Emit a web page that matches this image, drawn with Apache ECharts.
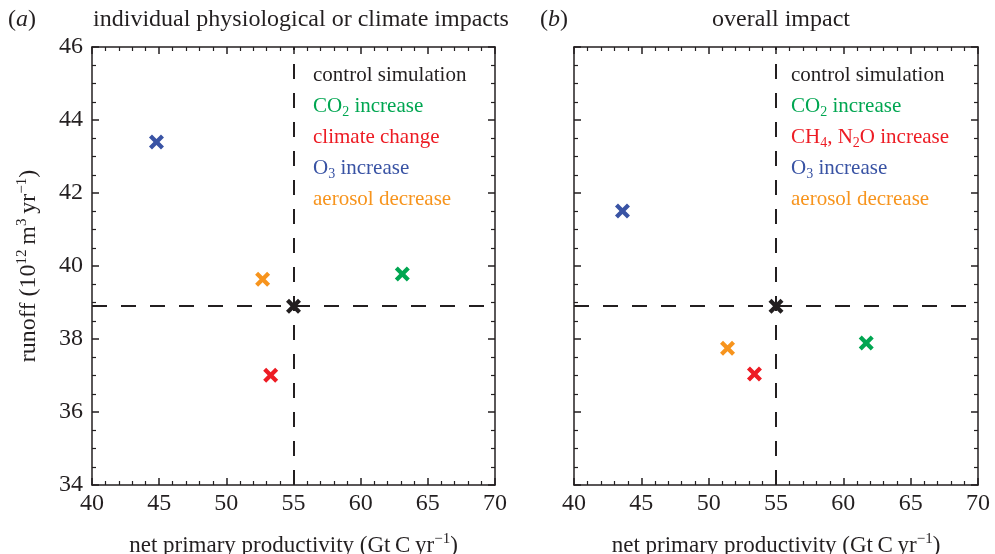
<!DOCTYPE html>
<html>
<head>
<meta charset="utf-8">
<script src="https://cdn.jsdelivr.net/npm/echarts@6.0.0/dist/echarts.min.js"></script>
<style>
  html, body { margin: 0; padding: 0; background: #fff; }
  #chart { width: 995px; height: 554px; }
</style>
</head>
<body>
<div id="chart"></div>
<script>
// 数据：(a) 单项影响, (b) 总体影响
const seriesColors = ['#231f20', '#00a651', '#ed1c24', '#3953a4', '#f7941d']
const labelsA = ['control simulation', 'CO{sub|2} increase', 'climate change', 'O{sub|3} increase', 'aerosol decrease']
const labelsB = ['control simulation', 'CO{sub|2} increase', 'CH{sub|4}, N{sub|2}O increase', 'O{sub|3} increase', 'aerosol decrease']
const nppA = [55.0, 63.1, 53.3, 44.8, 52.7] // Gt C yr-1
const runoffA = [38.9, 39.78, 37.01, 43.4, 39.64] // 10^12 m3 yr-1
const nppB = [55.0, 61.7, 53.4, 43.6, 51.4]
const runoffB = [38.9, 37.89, 37.04, 41.51, 37.75]
const controlNpp = 55.0
const controlRunoff = 38.9
const xRange = [40, 70]
const yRange = [34, 46]

const serif = '"Liberation Serif", "DejaVu Serif", serif'
const crossPath = 'path://M0,2L2,0L5,3L8,0L10,2L7,5L10,8L8,10L5,7L2,10L0,8L3,5Z'
const richSub = {
  n: { fontFamily: serif, fontSize: 21, lineHeight: 26, verticalAlign: 'middle' },
  sub: { fontFamily: serif, fontSize: 14, lineHeight: 26, verticalAlign: 'bottom' }
}

let myChart = echarts.init(document.getElementById('chart'))

// 坐标轴
function makeX (grid, pos, labels) {
  return {
    type: 'value',
    gridIndex: grid,
    position: pos,
    min: xRange[0],
    max: xRange[1],
    interval: 5,
    axisLine: { show: true, onZero: false, lineStyle: { color: '#231f20', width: 1.5 } },
    axisTick: { show: true, inside: true, length: 7, lineStyle: { color: '#231f20', width: 1.5 } },
    minorTick: { show: true, splitNumber: 5, length: 4, lineStyle: { color: '#231f20', width: 1.2 } },
    splitLine: { show: false },
    axisLabel: { show: labels, margin: 7, color: '#231f20', fontFamily: serif, fontSize: 24 },
    name: labels ? 'net primary productivity (Gt\u2009C\u2009yr{sup|\u22121})' : '',
    nameLocation: 'middle',
    nameGap: 47,
    nameTextStyle: {
      color: '#231f20',
      fontFamily: serif,
      fontSize: 23,
      lineHeight: 28,
      rich: {
        sup: { fontFamily: serif, fontSize: 15, lineHeight: 28, verticalAlign: 'top' }
      }
    }
  }
}

function makeY (grid, pos, labels, withName) {
  return {
    type: 'value',
    gridIndex: grid,
    position: pos,
    min: yRange[0],
    max: yRange[1],
    interval: 2,
    axisLine: { show: true, onZero: false, lineStyle: { color: '#231f20', width: 1.5 } },
    axisTick: { show: true, inside: true, length: 7, lineStyle: { color: '#231f20', width: 1.5 } },
    minorTick: { show: true, splitNumber: 4, length: 4, lineStyle: { color: '#231f20', width: 1.2 } },
    splitLine: { show: false },
    axisLabel: { show: labels, margin: 9, color: '#231f20', fontFamily: serif, fontSize: 24 },
    name: withName ? 'runoff (10{sup|12}\u2009m{sup|3}\u2009yr{sup|\u22121})' : '',
    nameLocation: 'middle',
    nameGap: 49,
    nameTextStyle: {
      color: '#231f20',
      fontFamily: serif,
      fontSize: 24,
      lineHeight: 28,
      rich: {
        sup: { fontFamily: serif, fontSize: 15, lineHeight: 28, verticalAlign: 'top' }
      }
    }
  }
}

function pointSeries (grid, npp, runoff) {
  let list = []
  // 参考虚线
  list.push({
    type: 'scatter',
    xAxisIndex: grid,
    yAxisIndex: grid,
    data: [],
    z: 1,
    markLine: {
      silent: true,
      symbol: 'none',
      label: { show: false },
      lineStyle: { color: '#231f20', width: 2, type: [15, 14] },
      data: [{ xAxis: controlNpp }, { yAxis: controlRunoff }]
    }
  })
  npp.forEach((v, i) => {
    list.push({
      type: 'scatter',
      xAxisIndex: grid,
      yAxisIndex: grid,
      symbol: crossPath,
      symbolSize: 15,
      z: 3,
      itemStyle: { color: seriesColors[i], opacity: 1 },
      data: [[v, runoff[i]]]
    })
  })
  return list
}

function legendText (labels, left) {
  return labels.map((t, i) => ({
    type: 'text',
    left: left,
    top: 65 + i * 31,
    style: {
      text: t.split(/(\{sub\|[^}]*\})/).map(s => s.startsWith('{') ? s : (s ? '{n|' + s + '}' : '')).join(''),
      fill: seriesColors[i],
      rich: richSub
    }
  }))
}

const panelRich = {
  n: { fontFamily: serif, fontSize: 24, fontWeight: 'normal', color: '#231f20' },
  i: { fontFamily: serif, fontSize: 24, fontWeight: 'normal', fontStyle: 'italic', color: '#231f20' }
}

myChart.setOption({
  animation: false,
  textStyle: { fontFamily: serif },
  title: [
    { text: '{n|(}{i|a}{n|)}', left: 3, top: 3, textStyle: { fontWeight: 'normal', rich: panelRich } },
    {
      text: 'individual physiological or climate impacts',
      left: 296,
      textAlign: 'center',
      top: 3,
      textStyle: { fontFamily: serif, fontSize: 24, fontWeight: 'normal', color: '#231f20' }
    },
    { text: '{n|(}{i|b}{n|)}', left: 535, top: 3, textStyle: { fontWeight: 'normal', rich: panelRich } },
    {
      text: 'overall impact',
      left: 776,
      textAlign: 'center',
      top: 3,
      textStyle: { fontFamily: serif, fontSize: 24, fontWeight: 'normal', color: '#231f20' }
    }
  ],
  grid: [
    { left: 92, right: 500, top: 47, bottom: 69, outerBoundsMode: 'none' },
    { left: 574, right: 17, top: 47, bottom: 69, outerBoundsMode: 'none' }
  ],
  xAxis: [makeX(0, 'bottom', true), makeX(1, 'bottom', true), makeX(0, 'top', false), makeX(1, 'top', false)],
  yAxis: [makeY(0, 'left', true, true), makeY(1, 'left', false, false), makeY(0, 'right', false, false), makeY(1, 'right', false, false)],
  series: pointSeries(0, nppA, runoffA).concat(pointSeries(1, nppB, runoffB)),
  graphic: legendText(labelsA, 313).concat(legendText(labelsB, 791))
})
</script>
</body>
</html>
